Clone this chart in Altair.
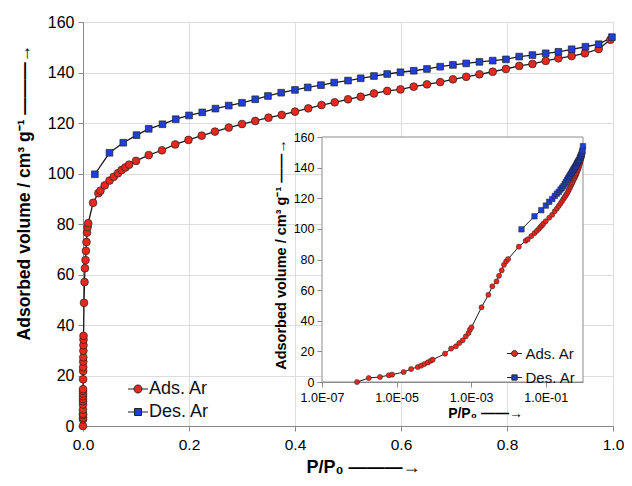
import altair as alt
import pandas as pd

# ---------------- data ----------------
ads_p = [8.7e-7, 1.8e-6, 3.6e-6, 6.2e-6, 7.6e-6, 1.55e-5, 2.45e-5, 3.7e-5, 4.6e-5, 5.6e-5,
         6.9e-5, 8.3e-5, 9.3e-5, 2.0e-4, 2.9e-4, 3.9e-4, 4.8e-4, 5.9e-4, 7.2e-4, 8.5e-4,
         9.3e-4, 1.02e-3, 1.9e-3, 2.9e-3, 3.7e-3, 4.8e-3, 5.6e-3, 6.6e-3, 7.6e-3, 8.7e-3,
         9.8e-3, 0.019, 0.029, 0.033, 0.041, 0.050, 0.058, 0.066, 0.073, 0.080,
         0.087, 0.100, 0.124, 0.149, 0.174, 0.199, 0.224, 0.249, 0.275, 0.300,
         0.325, 0.350, 0.375, 0.400, 0.425, 0.450, 0.475, 0.500, 0.524, 0.549,
         0.574, 0.599, 0.624, 0.649, 0.674, 0.698, 0.723, 0.748, 0.773, 0.798,
         0.823, 0.848, 0.873, 0.897, 0.922, 0.947, 0.973, 0.995]
ads_v = [0.0, 2.6, 3.3, 4.4, 4.8, 6.5, 8.5, 9.8, 10.7, 11.8,
         12.8, 13.9, 14.6, 18.5, 21.8, 23.3, 25.5, 27.2, 29.8, 32.0,
         34.2, 35.7, 48.8, 57.0, 62.5, 65.7, 69.4, 72.9, 76.6, 78.8,
         80.3, 88.4, 92.2, 93.2, 95.3, 97.2, 98.7, 100.1, 101.4, 102.4,
         103.5, 105.0, 107.3, 109.2, 111.5, 113.3, 115.0, 116.6, 118.2, 119.6,
         120.8, 122.1, 123.2, 124.5, 125.8, 127.1, 128.2, 129.4, 130.4, 131.7,
         132.7, 133.3, 134.4, 135.3, 136.2, 137.3, 138.3, 139.3, 140.3, 141.4,
         142.6, 143.4, 144.6, 145.6, 146.5, 147.6, 149.3, 153.0]

des_p = [0.0224, 0.050, 0.076, 0.101, 0.124, 0.150, 0.175, 0.200, 0.225, 0.250,
         0.275, 0.300, 0.325, 0.349, 0.374, 0.400, 0.424, 0.449, 0.474, 0.500,
         0.524, 0.549, 0.574, 0.599, 0.624, 0.649, 0.674, 0.698, 0.723, 0.748,
         0.773, 0.798, 0.823, 0.848, 0.873, 0.897, 0.922, 0.948, 0.973, 0.998]
des_v = [99.7, 108.2, 112.2, 115.2, 117.7, 119.5, 121.5, 123.0, 124.2, 125.7,
         126.9, 128.0, 129.4, 130.7, 132.0, 133.1, 134.1, 135.0, 136.0, 136.8,
         137.7, 138.6, 139.4, 140.1, 140.7, 141.4, 142.3, 143.0, 143.6, 144.2,
         144.7, 145.2, 146.3, 146.9, 147.6, 148.2, 149.2, 150.2, 151.2, 154.0]

series_names = ["Ads. Ar", "Des. Ar"]
series_colors = ["#e8281e", "#1f3fd8"]

main_x_ticks = [0.0, 0.2, 0.4, 0.6, 0.8, 1.0]
main_y_ticks = [0, 20, 40, 60, 80, 100, 120, 140, 160]
inset_x_ticks = [1e-7, 1e-5, 1e-3, 1e-1]
inset_y_ticks = [0, 20, 40, 60, 80, 100, 120, 140, 160]
inset_frame = {"x1": [1e-7], "x2": [1.0], "y1": [0], "y2": [160]}

# ---------------- tables ----------------
df = pd.concat([
    pd.DataFrame({"p": ads_p, "v": ads_v, "series": series_names[0], "o": range(len(ads_p))}),
    pd.DataFrame({"p": des_p, "v": des_v, "series": series_names[1], "o": range(len(des_p))}),
], ignore_index=True)
frame_df = pd.DataFrame(inset_frame)

FONT = "Liberation Sans"
AXC = "#8c8c8c"
LINEC = "#1a1a1a"

# legend symbols: marker with a short line through it (Excel style)
CIRC_L = "M-2,0H-0.8M0.8,0H2M-0.8,0A0.8,0.8,0,1,1,0.8,0A0.8,0.8,0,1,1,-0.8,0Z"
SQ_L = "M-2,0H-0.7M0.7,0H2M-0.7,-0.7H0.7V0.7H-0.7Z"

# inset placement inside the main plot area (pixels from the main plot's top-left)
IX0, IX1 = 239, 500
IY0, IY1 = 360, 115


def legend_layer(x, y, size, font, rowpad, laboff):
    leg = alt.Legend(
        title=None, orient="none", legendX=x, legendY=y,
        symbolSize=size, labelFontSize=font, labelFont=FONT, labelColor="#111",
        rowPadding=rowpad, labelOffset=laboff, padding=0, symbolStrokeWidth=1,
    )
    return alt.Chart(df).transform_filter("datum.o < 0").mark_point(
        filled=True, strokeWidth=1, opacity=1
    ).encode(
        fill=alt.Fill("series:N", scale=alt.Scale(domain=series_names, range=series_colors), legend=leg),
        stroke=alt.Stroke("series:N", scale=alt.Scale(domain=series_names, range=["#222", "#222"]),
                          legend=leg),
        shape=alt.Shape("series:N", scale=alt.Scale(domain=series_names, range=[CIRC_L, SQ_L]), legend=leg),
    )


def points_layer(sizes, sw):
    return alt.Chart(df).mark_point(filled=True, stroke="#222", strokeWidth=sw, opacity=1).encode(
        x="p:Q", y="v:Q",
        fill=alt.Fill("series:N", scale=alt.Scale(domain=series_names, range=series_colors), legend=None),
        shape=alt.Shape("series:N", scale=alt.Scale(domain=series_names, range=["circle", "square"]),
                        legend=None),
        size=alt.Size("series:N", scale=alt.Scale(domain=series_names, range=sizes), legend=None),
    )


# ---------------- main chart ----------------
xm = alt.X("p:Q", scale=alt.Scale(domain=[0, 1], nice=False, zero=False),
           axis=alt.Axis(values=main_x_ticks, format=".1f", title="P/P₀      ———→",
                         titleX=280, titleY=41, titleBaseline="middle", labelFlush=False,
                         labelFontSize=15.5, titleFontSize=18, labelPadding=6))
ym = alt.Y("v:Q", scale=alt.Scale(domain=[0, 160], nice=False),
           axis=alt.Axis(values=main_y_ticks, title="Adsorbed volume  / cm³ g⁻¹     ———→",
                         titleX=-59, titleY=170, titleAngle=270, titleAlign="center",
                         titleBaseline="middle", labelFontSize=16, titleFontSize=17.5,
                         labelPadding=4))

main_lines = alt.Chart(df).mark_line(color=LINEC, strokeWidth=1.3).encode(
    x=xm, y=ym, detail="series:N", order="o:Q")
main = alt.layer(main_lines, points_layer([60, 45], 0.7),
                 legend_layer(46, 358, 100, 18, 5, 2)).resolve_scale(
    fill="independent", shape="independent", size="independent", stroke="independent")

# ---------------- inset chart ----------------
xi = alt.X("p:Q", scale=alt.Scale(type="log", domain=[1e-7, 1], range=[IX0, IX1], nice=False),
           axis=alt.Axis(orient="bottom", offset=-44, values=inset_x_ticks, labelFlush=False,
                         labelExpr="'1.0E-0' + round(-log(datum.value) / LN10)",
                         title="P/P₀    ——→", titleX=402, titleY=31, titleBaseline="middle",
                         labelFontSize=12.5, titleFontSize=14, labelPadding=4))
yi = alt.Y("v:Q", scale=alt.Scale(domain=[0, 160], range=[IY0, IY1], nice=False),
           axis=alt.Axis(orient="left", offset=-IX0, values=inset_y_ticks,
                         title="Adsorbed volume / cm³ g⁻¹   ——→",
                         titleX=-41, titleY=232, titleAngle=270, titleAlign="center",
                         titleBaseline="middle", labelFontSize=12.5, titleFontSize=14.5,
                         labelPadding=3))

inset_frame_mark = alt.Chart(frame_df).mark_rect(fill="white", stroke=AXC, strokeWidth=1).encode(
    x=alt.X("x1:Q", scale=alt.Scale(type="log", domain=[1e-7, 1], range=[IX0, IX1], nice=False)),
    x2="x2:Q",
    y=alt.Y("y1:Q", scale=alt.Scale(domain=[0, 160], range=[IY0, IY1], nice=False)),
    y2="y2:Q",
)
inset_lines = alt.Chart(df).mark_line(color=LINEC, strokeWidth=1).encode(
    x=xi, y=yi, detail="series:N", order="o:Q")
inset = alt.layer(inset_frame_mark, inset_lines, points_layer([26, 30], 0.5),
                  legend_layer(424, 324, 56, 15, 8, 3.5)).resolve_scale(
    fill="independent", shape="independent", size="independent", stroke="independent")

chart = alt.layer(main, inset).resolve_scale(
    x="independent", y="independent", fill="independent", shape="independent",
    size="independent", stroke="independent"
).resolve_axis(x="independent", y="independent").properties(
    width=530, height=404,
    autosize=alt.AutoSizeParams(type="none"),
    padding={"left": 75, "top": 14, "right": 11, "bottom": 52},
).configure_view(stroke=AXC, strokeWidth=1).configure_axis(
    grid=False, domainColor=AXC, tickColor=AXC, labelColor="#404040", titleColor="#111",
    labelFont=FONT, titleFont=FONT, titleFontWeight="bold", tickSize=5, labelFlush=False,
).configure(background="white")

chart.save("out.html", embed_options={"renderer": "svg", "actions": False})
